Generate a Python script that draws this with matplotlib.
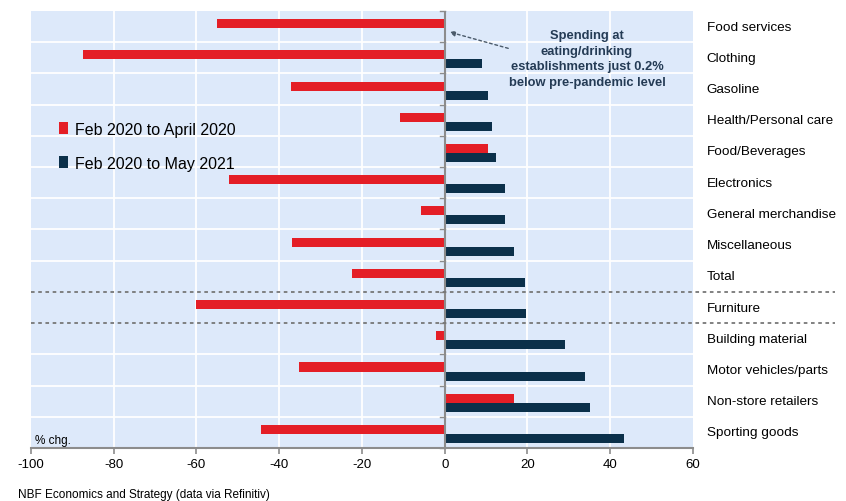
import numpy as np
import matplotlib
matplotlib.use('Agg')
import matplotlib.pyplot as plt
from matplotlib.lines import Line2D

plt.rcParams['font.family'] = ['Liberation Sans', 'DejaVu Sans']

# Data (% change)
categories = ['Food services', 'Clothing', 'Gasoline', 'Health/Personal care',
              'Food/Beverages', 'Electronics', 'General merchandise',
              'Miscellaneous', 'Total', 'Furniture', 'Building material',
              'Motor vehicles/parts', 'Non-store retailers', 'Sporting goods']
feb_apr_2020 = [-55.0, -87.4, -37.2, -10.8, 10.4, -52.2, -5.8,
                -37.0, -22.3, -60.2, -2.1, -35.2, 16.8, -44.3]
feb_2020_may_2021 = [-0.2, 8.9, 10.4, 11.5, 12.5, 14.6, 14.6,
                     16.8, 19.4, 19.7, 29.1, 34.0, 35.1, 43.4]
xticks = [-100, -80, -60, -40, -20, 0, 20, 40, 60]

red = '#e41e26'
navy = '#0b304a'
bg = '#dde9fa'
grey = '#8c8c8c'

fig = plt.figure(figsize=(8.46, 5.02), dpi=100)
ax = fig.add_axes([0.0366, 0.1056, 0.7825, 0.8705])
ax.set_facecolor(bg)

y = np.arange(len(categories))
h = 0.29
ax.barh(y - 0.095, feb_apr_2020, height=h, color=red, zorder=3,
        label='Feb 2020 to April 2020')
ax.barh(y + 0.195, feb_2020_may_2021, height=h, color=navy, zorder=3,
        label='Feb 2020 to May 2021')

ax.set_xlim(-100, 60)
ax.set_ylim(len(categories) - 0.5, -0.5)
ax.set_xticks(xticks)
ax.set_xticklabels([str(t) for t in xticks], fontsize=9.5)
ax.set_yticks([])

# white grid
for t in xticks[1:-1]:
    ax.axvline(t, color='white', lw=1.3, zorder=1)
for b in np.arange(0.5, len(categories) - 0.5, 1):
    if b in (8.5, 9.5):
        continue
    ax.axhline(b, color='white', lw=1.3, zorder=1)

# zero line with small ticks
ax.axvline(0, color=grey, lw=1.5, zorder=4)
for b in np.arange(-0.5, len(categories), 1):
    ax.plot([-1.2, 0], [b, b], color=grey, lw=1, zorder=4, clip_on=False)

# dashed separators around Furniture, running past the axes
for b in (8.5, 9.5):
    yy = ax.transData.transform((0, b))[1]
    yf = fig.transFigure.inverted().transform((0, yy))[1]
    fig.add_artist(Line2D([0.0366, 0.987], [yf, yf], color='#777777',
                          lw=1.3, linestyle=(0, (2, 2))))

for s in ['top', 'right', 'left']:
    ax.spines[s].set_visible(False)
ax.spines['bottom'].set_color(grey)
ax.spines['bottom'].set_linewidth(1.5)
ax.tick_params(axis='x', colors=grey, length=4, width=1.2, labelcolor='black')

# category labels on the right
for i, c in enumerate(categories):
    ax.text(1.021, i, c, transform=ax.get_yaxis_transform(), fontsize=9.7,
            va='center', ha='left', color='black')

# legend
leg = ax.legend(loc='upper left', bbox_to_anchor=(0.02, 0.78), frameon=False,
                fontsize=11.5, handlelength=0.6, handleheight=0.7,
                handletextpad=0.4, labelspacing=1.2)

# annotation
ax.annotate('', xy=(0.5, 0.15), xytext=(16, 0.72),
            arrowprops=dict(arrowstyle='-|>', color='#4a5a6a', lw=1,
                            linestyle=(0, (2, 2)), mutation_scale=8), zorder=5)
ax.text(34.4, 1.02, 'Spending at\neating/drinking\nestablishments just 0.2%\nbelow pre-pandemic level',
        ha='center', va='center', fontsize=9.3, fontweight='bold',
        color='#243b55', linespacing=1.42, zorder=5)

ax.text(-99, 13.45, '% chg.', fontsize=8.5, va='bottom', ha='left')
fig.text(0.021, 0.002, 'NBF Economics and Strategy (data via Refinitiv)',
         fontsize=8.5, ha='left', va='bottom')

fig.savefig('out.png', dpi=100)
